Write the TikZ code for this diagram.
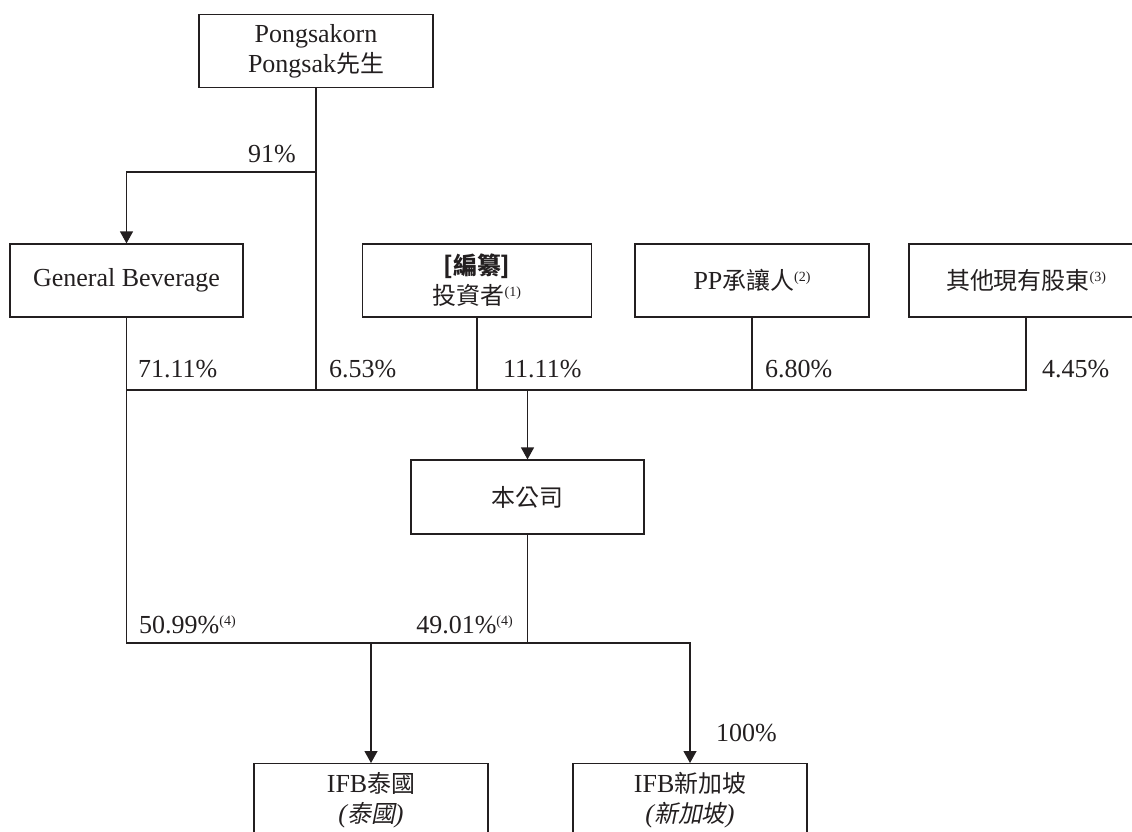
\documentclass[tikz,border=0pt]{standalone}
\usepackage{fontspec}
\setmainfont{Liberation Serif}
\newfontfamily\cjk[Scale=0.92]{Noto Sans CJK TC}
\newfontfamily\cjksl[Scale=0.92,FakeSlant=0.2]{Noto Sans CJK TC}
\usetikzlibrary{arrows.meta}
\definecolor{ink}{HTML}{231F20}
\newcommand\fnote[1]{\raisebox{8pt}{\fontsize{14}{14}\selectfont(#1)}}
\begin{document}
\begin{tikzpicture}[x=1pt,y=-1pt,
  box/.style={draw=ink, line width=1.2pt, text=ink, minimum height=73pt, inner sep=0pt, align=center, font=\fontsize{26}{30}\selectfont},
  link/.style={draw=ink, line width=1.2pt},
  arr/.style={link, -{Triangle[width=13pt,length=12pt]}},
  pct/.style={text=ink, inner sep=0pt, font=\fontsize{26}{30}\selectfont}]
\useasboundingbox (0,0) rectangle (1132,831);
\clip (0,0) rectangle (1132,831);
% boxes
\node[box, minimum width=234pt] (pong) at (316,51) {Pongsakorn\\Pongsak{\cjk 先生}};
\node[box, minimum width=233pt] (gb) at (126.5,280.5) {General Beverage};
\node[box, minimum width=229pt] (inv) at (477,280.5) {{\cjk\bfseries [編纂]}\\{\cjk 投資者}\fnote{1}};
\node[box, minimum width=234pt] (pp) at (752,280.5) {PP{\cjk 承讓人}\fnote{2}};
\node[box, minimum width=234pt] (oth) at (1026,280.5) {{\cjk 其他現有股東}\fnote{3}};
\node[box, minimum width=233pt, minimum height=74pt] (co) at (527.5,497) {{\cjk 本公司}};
\node[box, minimum width=234pt, anchor=north] (ifbt) at (371,763) {IFB{\cjk 泰國}\\{\itshape(}{\cjksl 泰國}{\itshape)}};
\node[box, minimum width=234pt, anchor=north] (ifbs) at (690,763) {IFB{\cjk 新加坡}\\{\itshape(}{\cjksl 新加坡}{\itshape)}};
% helper coordinates
\coordinate (y91) at (0,172);
\coordinate (bar) at (0,390);
\coordinate (bot) at (0,643);
% connectors
\draw[link] (pong.south) -- (pong.south |- bar);
\draw[arr] (pong.south |- y91) -| (gb.north);
\draw[link] (gb.south |- bar) -| (oth.south);
\draw[link] (inv.south) -- (inv.south |- bar);
\draw[link] (pp.south) -- (pp.south |- bar);
\draw[arr] (co.north |- bar) -- (co.north);
\draw[link] (co.south) -- (co.south |- bot);
\draw[arr] (gb.south) |- (ifbs.north |- bot) -- (ifbs.north);
\draw[arr] (ifbt.north |- bot) -- (ifbt.north);
% labels
\node[pct, anchor=base east] (l91) at (296,162) {91\%};
\node[pct, anchor=base west] (l7111) at (138,377) {71.11\%};
\node[pct, anchor=base west] (l653) at (329,377) {6.53\%};
\node[pct, anchor=base west] (l1111) at (503,377) {11.11\%};
\node[pct, anchor=base west] (l680) at (765,377) {6.80\%};
\node[pct, anchor=base west] (l445) at (1042,377) {4.45\%};
\node[pct, anchor=base west] (l5099) at (139,633) {50.99\%\fnote{4}};
\node[pct, anchor=base east] (l4901) at (513,633) {49.01\%\fnote{4}};
\node[pct, anchor=base west] (l100) at (716,741) {100\%};
\end{tikzpicture}
\end{document}
